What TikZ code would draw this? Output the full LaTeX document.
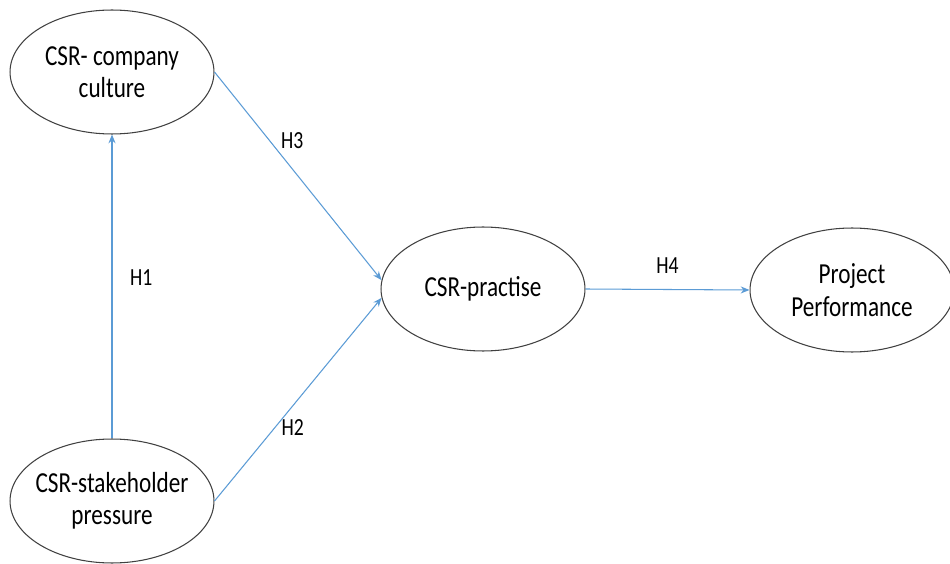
\documentclass[tikz,border=0pt]{standalone}
\usepackage{fontspec}
\setmainfont[FakeStretch=0.8]{Carlito}
\usetikzlibrary{shapes.geometric,arrows.meta}
\definecolor{linkblue}{RGB}{91,155,213}
\begin{document}
\begin{tikzpicture}[x=0.02cm,y=-0.02cm,
    hyp/.style={-{Stealth[length=5pt,width=4pt]},draw=linkblue,line width=0.6pt}]
    \useasboundingbox (0,0) rectangle (950,564);

    \begin{scope}[every node/.style={ellipse,draw=black!75,line width=0.6pt,minimum width=4.08cm,minimum height=2.48cm,inner sep=0pt,inner xsep=-6pt,align=center,font=\fontsize{16.5}{18.5}\selectfont}]
        \node (C) at (112,72) {CSR- company\\culture};
        \node (S) at (112,501) {CSR-stakeholder\\pressure};
        \node (P) at (483,289) {CSR-practise};
        \node (F) at (852,290) {Project\\Performance};
    \end{scope}
    \begin{scope}[every node/.style={inner sep=0pt,font=\fontsize{14}{16}\selectfont}]
        \draw [hyp] (S.north) -- node[pos=0.53, right=0.35cm] {H1}(C.south);
        \draw [hyp] (C.east) -- node[pos=0.33, right=0.22cm] {H3}(P.175);
        \draw [hyp] (S.east) -- node[pos=0.36, right=0.13cm] {H2}(P.185);
        \draw [hyp] (P.east) -- node[midway, above=0.31cm] {H4}(F.west);
    \end{scope}
    \end{tikzpicture}
\end{document}
